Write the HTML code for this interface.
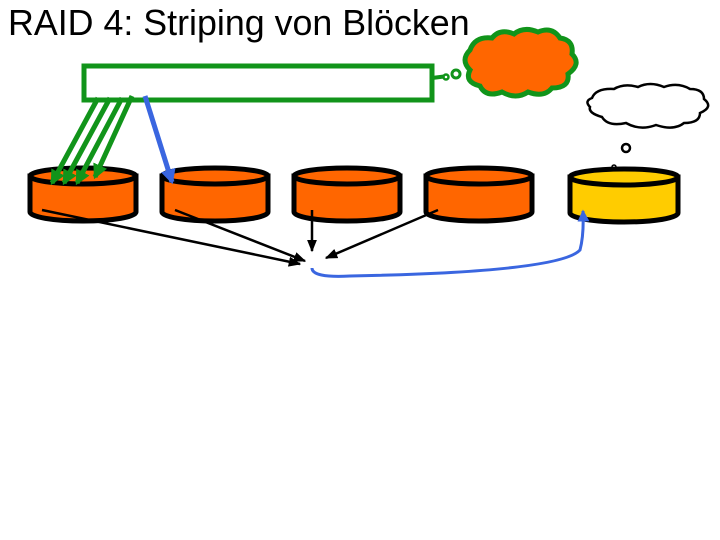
<!DOCTYPE html>
<html><head><meta charset="utf-8"><style>body{margin:0;background:#fff}svg{display:block}</style></head><body>
<svg width="720" height="540" xmlns="http://www.w3.org/2000/svg">
<defs>
<marker id="ag" markerWidth="3" markerHeight="3" refX="2.5" refY="1.5" orient="auto" markerUnits="strokeWidth"><path d="M0,0L3,1.5L0,3z" fill="#11941a"/></marker>
<marker id="ab" markerWidth="3" markerHeight="3" refX="2.5" refY="1.5" orient="auto" markerUnits="strokeWidth"><path d="M0,0L3,1.5L0,3z" fill="#3a66e0"/></marker>
<marker id="ak" markerWidth="5" markerHeight="4" refX="4.5" refY="2" orient="auto" markerUnits="strokeWidth"><path d="M0,0L5,2L0,4z" fill="#000"/></marker>
<marker id="ab2" markerWidth="4" markerHeight="4" refX="3.5" refY="2" orient="auto" markerUnits="strokeWidth"><path d="M0,0L4,2L0,4z" fill="#3a66e0"/></marker>
</defs>
<text x="8" y="35" font-family="Liberation Sans, sans-serif" font-size="35.8">RAID 4: Striping von Blöcken</text>
<rect x="84" y="66" width="348" height="34" fill="#fff" stroke="#11941a" stroke-width="5"/>
<line x1="432" y1="78" x2="448" y2="76" stroke="#11941a" stroke-width="4"/>
<g fill="#ff6600" stroke="#11941a" stroke-width="5">
<path d="M470,50 q5,-14 22,-12 q8,-10 22,-4 q10,-8 24,-2 q14,-6 22,6 q14,2 12,16 q10,10 -4,20 q2,14 -16,14 q-8,10 -24,4 q-12,8 -26,0 q-16,6 -22,-6 q-16,-4 -10,-16 q-10,-10 0,-20z"/>
</g>
<circle cx="456" cy="74" r="4" fill="#fff" stroke="#11941a" stroke-width="3"/>
<circle cx="446" cy="77" r="2.5" fill="#fff" stroke="#11941a" stroke-width="2.5"/>
<path d="M592,98 q4,-10 22,-9 q10,-6 24,-2 q12,-6 26,0 q14,-5 26,2 q14,0 14,10 q10,8 -4,14 q0,10 -16,10 q-10,8 -28,2 q-16,6 -30,-2 q-18,4 -24,-6 q-14,-4 -12,-10 q-6,-6 2,-9z" fill="#fff" stroke="#000" stroke-width="2.5"/>
<circle cx="626" cy="148" r="4" fill="#fff" stroke="#000" stroke-width="2.5"/>
<circle cx="614" cy="167" r="2" fill="#fff" stroke="#000" stroke-width="1.5"/>
<g stroke="#000" stroke-width="5">
<g fill="#ff6600">
<path d="M30,176 v36 a53,9 0 0 0 106,0 v-36z"/><ellipse cx="83" cy="176" rx="53" ry="8"/>
<path d="M162,176 v36 a53,9 0 0 0 106,0 v-36z"/><ellipse cx="215" cy="176" rx="53" ry="8"/>
<path d="M294,176 v36 a53,9 0 0 0 106,0 v-36z"/><ellipse cx="347" cy="176" rx="53" ry="8"/>
<path d="M426,176 v36 a53,9 0 0 0 106,0 v-36z"/><ellipse cx="479" cy="176" rx="53" ry="8"/>
</g>
<g fill="#ffcc00">
<path d="M570,177 v36 a54,9 0 0 0 108,0 v-36z"/><ellipse cx="624" cy="177" rx="54" ry="8"/>
</g>
</g>
<g stroke="#11941a" stroke-width="5" marker-end="url(#ag)">
<line x1="98" y1="98" x2="52" y2="183"/>
<line x1="110" y1="98" x2="64" y2="183"/>
<line x1="122" y1="98" x2="77" y2="183"/>
<line x1="132" y1="96" x2="95" y2="177"/>
</g>
<line x1="145" y1="96" x2="172" y2="182" stroke="#3a66e0" stroke-width="5" marker-end="url(#ab)"/>
<g stroke="#000" stroke-width="2.5" marker-end="url(#ak)">
<line x1="42" y1="210" x2="300" y2="264"/>
<line x1="175" y1="210" x2="305" y2="261"/>
<line x1="312" y1="210" x2="312" y2="251"/>
<line x1="438" y1="210" x2="326" y2="258"/>
</g>
<path d="M312,268 Q312,278 350,276 Q560,272 580,250 Q584,235 583,211" fill="none" stroke="#3a66e0" stroke-width="3" marker-end="url(#ab2)"/>
</svg>
</body></html>
